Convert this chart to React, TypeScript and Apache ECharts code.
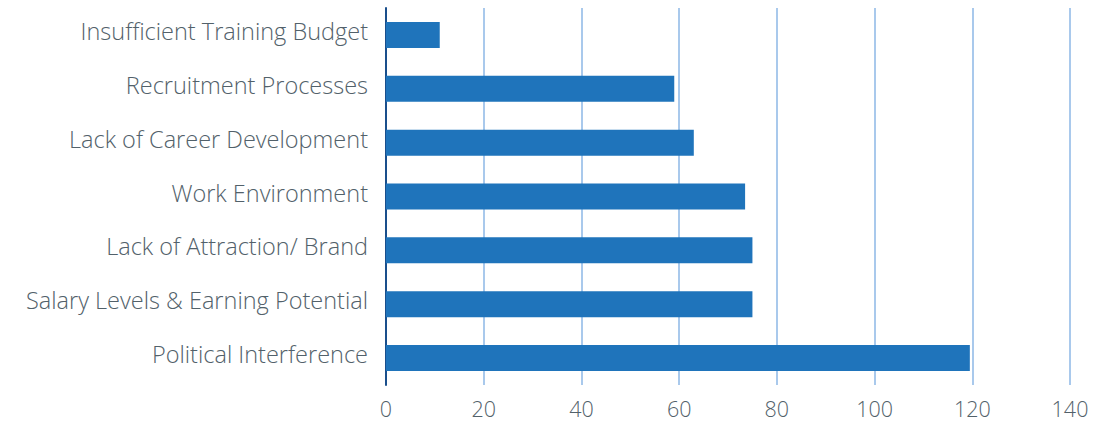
import React, { useEffect, useRef } from "react";
import * as echarts from "echarts";

const categories = [
  "Political Interference",
  "Salary Levels & Earning Potential",
  "Lack of Attraction/ Brand",
  "Work Environment",
  "Lack of Career Development",
  "Recruitment Processes",
  "Insufficient Training Budget",
];
const values = [119.5, 75, 75, 73.5, 63, 59, 11];
const xTicks = { min: 0, max: 140, interval: 20 };

export default function App() {
  const ref = useRef<HTMLDivElement>(null);
  useEffect(() => {
    const chart = echarts.init(ref.current!, null, { renderer: "svg" });
    chart.setOption({
      animation: false,
      backgroundColor: "#ffffff",
      grid: { left: 386, right: 30, top: 8, bottom: 39, containLabel: false },
      xAxis: {
        type: "value",
        min: xTicks.min,
        max: xTicks.max,
        interval: xTicks.interval,
        axisLine: { show: false },
        axisTick: { show: false },
        splitLine: { show: true, lineStyle: { color: "#8cb7e6", width: 1.5 } },
        axisLabel: {
          color: "#52616a",
          fontSize: 21.5,
          fontFamily: "Open Sans",
          fontWeight: 300,
          margin: 12,
        },
      },
      yAxis: {
        type: "category",
        data: categories,
        axisLine: { show: true, lineStyle: { color: "#1a4f8c", width: 2 } },
        axisTick: { show: false },
        splitLine: { show: false },
        axisLabel: {
          margin: 18,
          formatter: (v: string) => "{a|" + v + "}",
          rich: {
            a: {
              color: "#52616a",
              fontSize: 23.5,
              fontFamily: "Open Sans",
              fontWeight: 300,
              padding: [0, 0, 8, 0],
            },
          },
        },
      },
      series: [
        {
          type: "bar",
          data: values,
          barWidth: 26,
          itemStyle: { color: "#1f74bb" },
        },
      ],
    });
    return () => chart.dispose();
  }, []);
  return (
    <div
      ref={ref}
      style={{ position: "fixed", left: 0, top: 0, width: 1100, height: 424 }}
    />
  );
}
